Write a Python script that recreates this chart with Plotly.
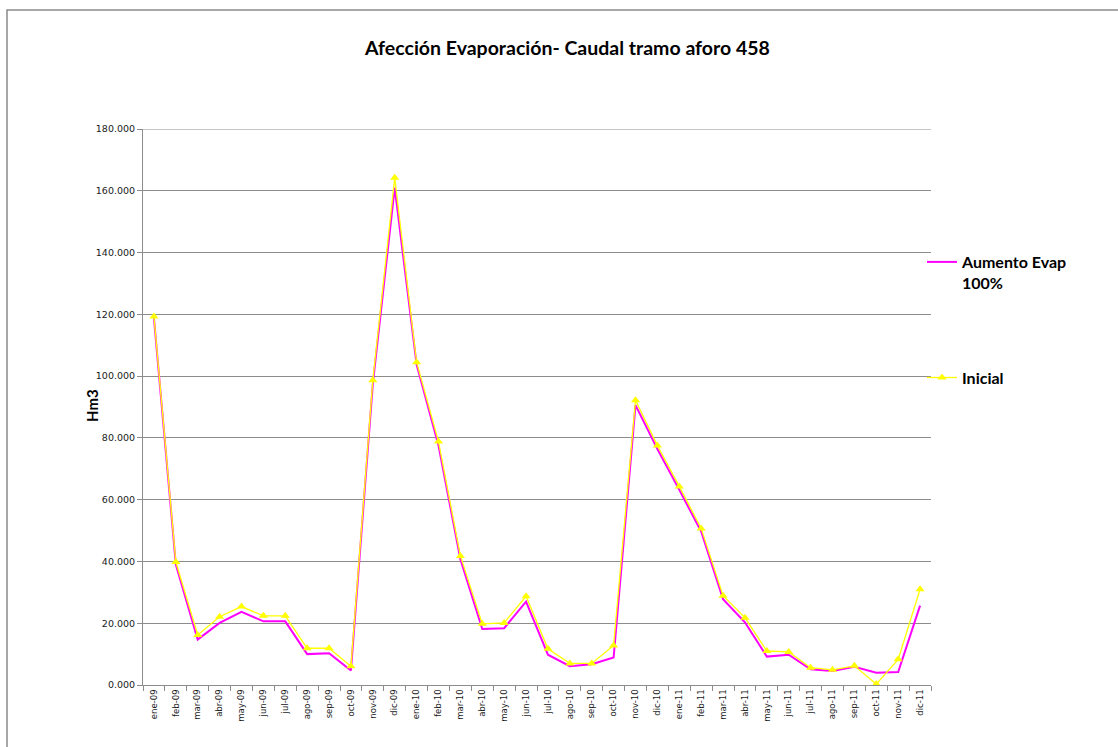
import plotly.graph_objects as go

# Monthly periods (Jan 2009 - Dec 2011)
meses = [
    "ene-09", "feb-09", "mar-09", "abr-09", "may-09", "jun-09",
    "jul-09", "ago-09", "sep-09", "oct-09", "nov-09", "dic-09",
    "ene-10", "feb-10", "mar-10", "abr-10", "may-10", "jun-10",
    "jul-10", "ago-10", "sep-10", "oct-10", "nov-10", "dic-10",
    "ene-11", "feb-11", "mar-11", "abr-11", "may-11", "jun-11",
    "jul-11", "ago-11", "sep-11", "oct-11", "nov-11", "dic-11",
]

# Flow with evaporation increased by 100%
aumento_evap = [
    118.8, 39.0, 14.7, 20.1, 23.7, 20.6,
    20.6, 10.0, 10.3, 4.7, 97.5, 161.0,
    103.7, 77.5, 40.7, 18.1, 18.4, 27.0,
    9.8, 6.1, 6.7, 8.9, 90.6, 76.4,
    63.2, 49.7, 27.8, 20.3, 9.2, 9.8,
    5.1, 4.5, 5.9, 4.0, 4.2, 25.7,
]

# Initial flow
inicial = [
    119.3, 39.8, 16.2, 22.1, 25.4, 22.4,
    22.4, 11.9, 11.9, 6.1, 98.7, 164.2,
    104.5, 78.8, 41.8, 19.8, 20.1, 28.7,
    11.7, 7.0, 7.0, 12.8, 92.2, 77.5,
    64.3, 50.7, 28.9, 21.8, 11.0, 10.7,
    5.6, 4.9, 6.2, 0.3, 8.3, 31.0,
]

W, H = 1118, 747
L, R, T, B = 143, 931, 129, 685
Y_MAX = 180


def px_x(x):
    return (x - L) / (R - L)


def px_y(y):
    return (B - y) / (B - T)


fig = go.Figure()

fig.add_trace(go.Scatter(
    x=meses, y=aumento_evap, name="<b>Aumento Evap<br>100%</b>",
    mode="lines", line=dict(color="#FF00FF", width=2),
    legendgroup="a",
))
fig.add_trace(go.Scatter(
    x=meses, y=inicial, name="<b>Inicial</b>",
    mode="lines+markers", line=dict(color="#FFFF00", width=1.3),
    marker=dict(symbol="triangle-up", size=8, color="#FFFF00"),
    legendgroup="b",
))

grid = "#8c8c8c"
fig.update_xaxes(
    type="category", showgrid=False, showline=True, linecolor=grid,
    linewidth=1, ticks="outside", tickson="boundaries", ticklen=5,
    tickcolor=grid, tickangle=-90,
    tickfont=dict(family="DejaVu Sans", size=8.5, color="#1a1a1a"),
    range=[-0.5, len(meses) - 0.5],
)
fig.update_yaxes(
    range=[0, Y_MAX], dtick=20, tickformat=".3f", showgrid=True,
    gridcolor=grid, gridwidth=1, showline=True, linecolor=grid,
    ticks="outside", ticklen=5, tickcolor=grid, zeroline=False,
    tickfont=dict(family="DejaVu Sans", size=9.5, color="#1a1a1a"),
)

# top gridline at the upper end of the value axis
fig.add_shape(
    type="line", xref="paper", yref="y", x0=0, x1=1, y0=Y_MAX, y1=Y_MAX,
    line=dict(color=grid, width=1), layer="below",
)

fig.add_annotation(
    text="<b>Afección Evaporación- Caudal tramo aforo 458</b>",
    xref="paper", yref="paper", x=px_x(567), y=px_y(47),
    xanchor="center", yanchor="middle",
    showarrow=False, font=dict(family="Lato", size=19.5, color="#000000"),
)
fig.add_annotation(
    text="<b>Hm3</b>", textangle=-90,
    xref="paper", yref="paper", x=px_x(92), y=px_y(406),
    xanchor="center", yanchor="middle",
    showarrow=False, font=dict(family="Lato", size=15, color="#000000"),
)

# chart frame
fig.add_shape(
    type="rect", xref="paper", yref="paper",
    x0=px_x(7), x1=px_x(1130), y0=px_y(760), y1=px_y(10),
    line=dict(color="#8a8a8a", width=1.5), layer="below",
)

fig.update_layout(
    width=W, height=H,
    margin=dict(l=L, r=W - R, t=T, b=H - B),
    plot_bgcolor="white", paper_bgcolor="white",
    showlegend=True,
    legend=dict(
        x=px_x(922), y=px_y(245), xanchor="left", yanchor="top",
        font=dict(family="Lato", size=16, color="#000000"),
        traceorder="grouped", tracegroupgap=71, valign="top",
        itemwidth=30, bgcolor="rgba(0,0,0,0)",
    ),
)

fig.write_html("out.html")
